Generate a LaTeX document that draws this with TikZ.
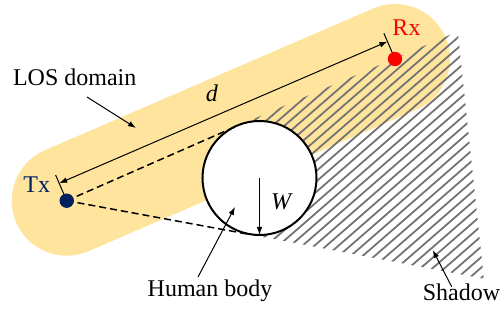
\documentclass[12pt,tikz,border=0pt]{standalone}
\usepackage{fontspec}
\setmainfont{Liberation Serif}
\usetikzlibrary{arrows.meta, calc}
\definecolor{losyellow}{RGB}{254,228,156}
\definecolor{txblue}{RGB}{0,32,96}
\tikzset{%
  pointer/.style={-{Latex[length=4pt,width=2.8pt]}, line width=0.5pt},
  dimline/.style={{Latex[length=4pt,width=2.8pt]}-{Latex[length=4pt,width=2.8pt]}, line width=0.5pt},
  ray/.style={dash pattern=on 3.5pt off 2pt, line width=0.75pt},
  hatch/.style={black!55, line width=0.9pt},
}

\begin{document}
\begin{tikzpicture}[x=0.5pt, y=-0.5pt]
    \useasboundingbox (0,0) rectangle (500,321);

    \coordinate (Tx) at (66.7,200.7);
    \coordinate (Rx) at (395,59);
    \coordinate (C) at (259.5,178);
    % tangent points of the body seen from Tx
    \coordinate (T1) at (236.8,126.1);
    \coordinate (T2) at (249.4,234.4);
    \coordinate (S1) at (457.8,31.5);
    \coordinate (S2) at (483.9,278.8);

    %LOS domain
    \draw[losyellow, line width=55pt, line cap=round] (Tx) -- (Rx);

    %shadow
    \begin{scope}
      \clip (T1) -- (S1) -- (S2) -- (T2) -- cycle;
      \foreach \x in {-96,-84,...,492}
        \draw[hatch] (\x,300) -- ++(345,-300);
    \end{scope}

    %human body
    \draw[line width=1pt, fill=white] (C) circle [radius=28.5pt];
    \coordinate (Cb) at ($(C)+(0,57)$);
    \draw[pointer] (C) -- (Cb);

    %rays past the body
    \draw[ray] (Tx) -- (T1);
    \draw[ray] (Tx) -- (T2);

    %distance d
    \coordinate (Txe) at ($(Tx)!14pt!90:(Rx)$);
    \coordinate (Rxe) at ($(Rx)!14pt!-90:(Tx)$);
    \draw[line width=0.5pt] (Tx) -- (Txe);
    \draw[line width=0.5pt] (Rx) -- (Rxe);
    \coordinate (Txd) at ($(Tx)!9.5pt!90:(Rx)$);
    \coordinate (Rxd) at ($(Rx)!9.5pt!-90:(Tx)$);
    \draw[dimline] (Txd) -- (Rxd);

    \fill[txblue] (Tx) circle [radius=3.6pt];
    \fill[red] (Rx) circle [radius=3.6pt];

    % labels
    \node[anchor=base, text=txblue] (txlabel) at (36.7,192) {Tx};
    \node[anchor=base, text=red] (rxlabel) at (406.5,35) {Rx};
    \node[anchor=base] (dlabel) at (212,102) {\textit{d}};
    \node[anchor=base] (wlabel) at (282,210) {\textit{W}};
    \node[anchor=base] (loslabel) at (74.7,85) {LOS domain};
    \node[anchor=base] (bodylabel) at (210,297) {Human body};
    \node[anchor=base] (shadowlabel) at (461.5,301) {Shadow};

    % pointers
    \coordinate (losa) at (87,97);
    \coordinate (losb) at (136,128);
    \draw[pointer] (losa) -- (losb);
    \coordinate (bodya) at (198,277);
    \coordinate (bodyb) at (235,207);
    \draw[pointer] (bodya) -- (bodyb);
    \coordinate (shadowa) at (451.7,286.7);
    \coordinate (shadowb) at (432.7,250);
    \draw[pointer] (shadowa) -- (shadowb);

\end{tikzpicture}
\end{document}
